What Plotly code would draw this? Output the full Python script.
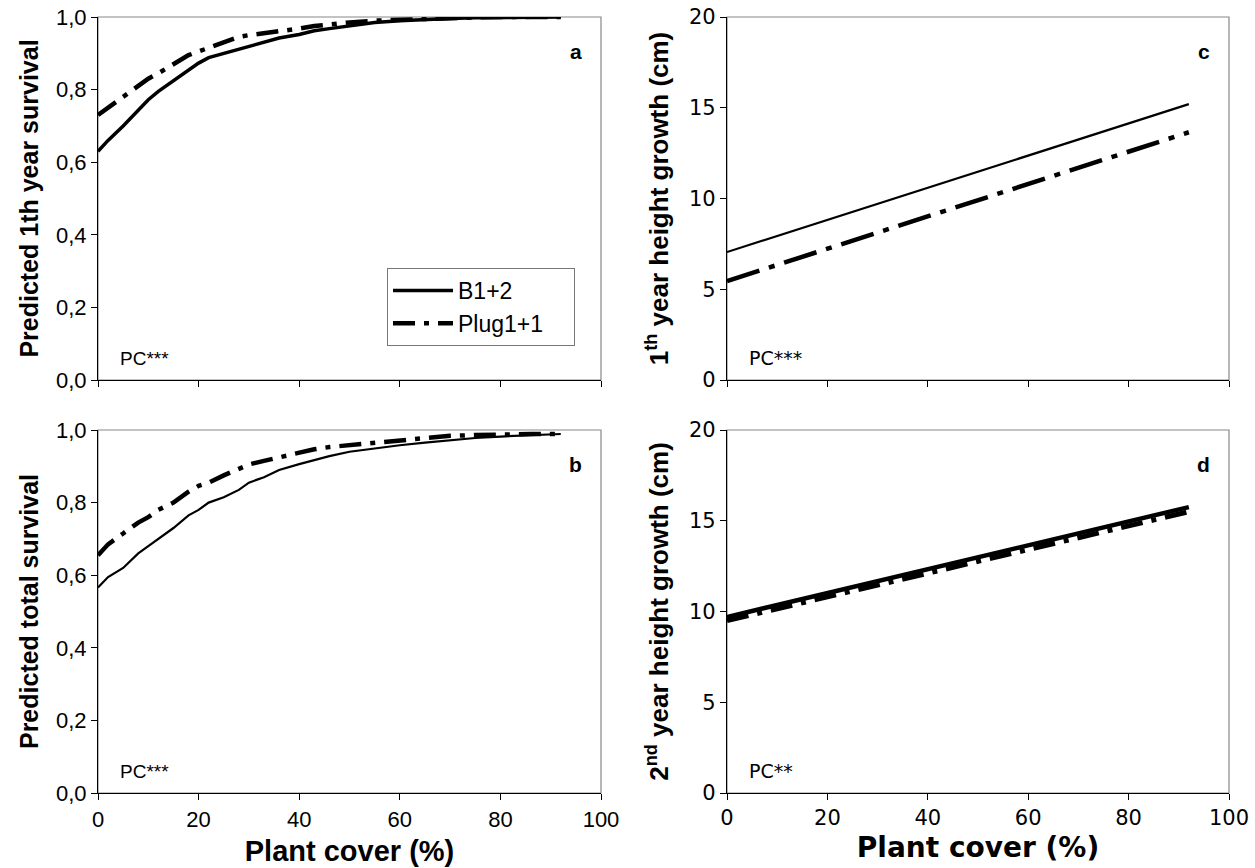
import plotly.graph_objects as go

# Plant cover (%) sample points for the fitted survival curves
cover = [0, 2, 5, 8, 10, 12, 15, 18, 20, 22, 25, 28, 30, 33, 36, 40, 43, 46,
         50, 55, 60, 65, 70, 75, 80, 86, 92]

# Predicted 1th year survival
surv1_b12 = [0.63, 0.66, 0.70, 0.745, 0.772, 0.795, 0.825, 0.853, 0.873, 0.888,
             0.900, 0.912, 0.920, 0.932, 0.942, 0.952, 0.962, 0.968, 0.976,
             0.985, 0.990, 0.994, 0.996, 0.998, 0.999, 1.0, 1.0]
surv1_plug = [0.73, 0.75, 0.78, 0.81, 0.83, 0.845, 0.87, 0.895, 0.905, 0.915,
              0.93, 0.945, 0.95, 0.955, 0.96, 0.968, 0.975, 0.98, 0.985, 0.99,
              0.993, 0.996, 0.998, 0.999, 1.0, 1.0, 1.0]

# Predicted total survival
survt_b12 = [0.566, 0.595, 0.62, 0.66, 0.68, 0.70, 0.73, 0.765, 0.78, 0.80,
             0.815, 0.835, 0.855, 0.87, 0.89, 0.906, 0.918, 0.928, 0.94, 0.95,
             0.958, 0.965, 0.972, 0.978, 0.982, 0.986, 0.989]
survt_plug = [0.655, 0.685, 0.715, 0.745, 0.76, 0.78, 0.80, 0.83, 0.846, 0.855,
              0.875, 0.893, 0.905, 0.915, 0.925, 0.94, 0.947, 0.953, 0.958,
              0.965, 0.972, 0.978, 0.984, 0.986, 0.988, 0.989, 0.989]

# Linear height growth models (cm), end points over the observed cover range
cover_lin = [0, 92]
h1_b12 = [7.05, 15.2]
h1_plug = [5.45, 13.65]
h2_b12 = [9.7, 15.75]
h2_plug = [9.5, 15.5]

x_ticks = [0, 20, 40, 60, 80, 100]
surv_ticks = [0, 0.2, 0.4, 0.6, 0.8, 1.0]
height_ticks = [0, 5, 10, 15, 20]

DASHDOT = "22px,9px,5px,9px"
DASHDOT_C = "34px,10px,6px,10px"

ARIAL = "Liberation Sans, Arial, sans-serif"
WIDE = "DejaVu Sans, Verdana, sans-serif"

W, H = 1255, 868
xl = [98 / W, 601 / W]
xr = [727 / W, 1229 / W]
yt = [1 - 380 / H, 1 - 17 / H]
yb = [1 - 793 / H, 1 - 430 / H]

fig = go.Figure()

def line(x, y, xa, ya, width, dash="solid", name=None, legend=False):
    fig.add_trace(go.Scatter(
        x=x, y=y, xaxis=xa, yaxis=ya, mode="lines", name=name,
        showlegend=legend,
        line=dict(color="black", width=width, dash=dash, shape="linear"),
    ))

# a
line(cover, surv1_b12, "x", "y", 3.5, name="B1+2\u00a0\u00a0\u00a0\u00a0", legend=True)
line(cover, surv1_plug, "x", "y", 4.5, DASHDOT, name="Plug1+1\u00a0\u00a0\u00a0\u00a0", legend=True)
# b
line(cover, survt_b12, "x3", "y3", 2.2)
line(cover, survt_plug, "x3", "y3", 4.5, DASHDOT)
# c
line(cover_lin, h1_b12, "x2", "y2", 2.2)
line(cover_lin, h1_plug, "x2", "y2", 4.5, DASHDOT_C)
# d
line(cover_lin, h2_b12, "x4", "y4", 4.5)
line(cover_lin, h2_plug, "x4", "y4", 5, DASHDOT)

def xaxis(domain, anchor, show_labels, font, size):
    return dict(domain=domain, anchor=anchor, range=[0, 100], tickvals=x_ticks,
                showticklabels=show_labels, ticks="outside", ticklen=6,
                tickcolor="black", tickwidth=1.2, showgrid=False, zeroline=False,
                showline=True, linecolor="black", linewidth=1.2, automargin=False,
                tickfont=dict(family=font, size=size, color="black"))

def yaxis(domain, anchor, rng, ticks, font, size, fmt, title, tfont, tsize, standoff):
    return dict(domain=domain, anchor=anchor, range=rng, tickvals=ticks,
                tickformat=fmt, ticks="outside", ticklen=6, tickcolor="black",
                tickwidth=1.2, showgrid=False, zeroline=False, showline=True,
                linecolor="black", linewidth=1.2, automargin=False,
                tickfont=dict(family=font, size=size, color="black"),
                title=dict(text=title, standoff=standoff,
                           font=dict(family=tfont, size=tsize, color="black")))

fig.update_layout(
    width=W, height=H, margin=dict(l=0, r=0, t=0, b=0, autoexpand=False),
    paper_bgcolor="white", plot_bgcolor="white", separators=",.",
    xaxis=xaxis(xl, "y", False, ARIAL, 22),
    yaxis=yaxis(yt, "x", [0, 1], surv_ticks, ARIAL, 22, ".1f",
                "<b>Predicted 1th year survival</b>", ARIAL, 25, 10),
    xaxis3=dict(xaxis(xl, "y3", True, ARIAL, 22),
                title=dict(text="<b>Plant cover (%)</b>", standoff=10,
                           font=dict(family=ARIAL, size=29, color="black"))),
    yaxis3=yaxis(yb, "x3", [0, 1], surv_ticks, ARIAL, 22, ".1f",
                 "<b>Predicted total survival</b>", ARIAL, 25, 10),
    xaxis2=xaxis(xr, "y2", False, WIDE, 21),
    yaxis2=yaxis(yt, "x2", [0, 20], height_ticks, WIDE, 21, "d",
                 "<b>1<sup>th</sup> year height growth (cm)</b>", ARIAL, 26, 12),
    xaxis4=dict(xaxis(xr, "y4", True, WIDE, 21),
                title=dict(text="<b>Plant cover (%)</b>", standoff=8,
                           font=dict(family=WIDE, size=28, color="black"))),
    yaxis4=yaxis(yb, "x4", [0, 20], height_ticks, WIDE, 21, "d",
                 "<b>2<sup>nd</sup> year height growth (cm)</b>", ARIAL, 26, 12),
    legend=dict(x=387 / W, y=1 - 268 / H, xanchor="left", yanchor="top",
                bgcolor="white", bordercolor="#777", borderwidth=1,
                font=dict(family=ARIAL, size=23, color="black"),
                itemwidth=60, tracegroupgap=4),
)

# light frame on the top and right of each panel
for xa, ya in [("x", "y"), ("x2", "y2"), ("x3", "y3"), ("x4", "y4")]:
    fig.add_shape(type="rect", xref=f"{xa} domain", yref=f"{ya} domain",
                  x0=0, x1=1, y0=0, y1=1, layer="below",
                  line=dict(color="#888", width=1.2))

# panel letters and significance notes
letters = [("a", "x", "y"), ("c", "x2", "y2"), ("b", "x3", "y3"), ("d", "x4", "y4")]
for txt, xa, ya in letters:
    fig.add_annotation(text=f"<b>{txt}</b>", xref=f"{xa} domain", yref=f"{ya} domain",
                       x=0.95, y=0.905, showarrow=False, xanchor="center",
                       yanchor="middle",
                       font=dict(family=ARIAL, size=21, color="black"))

notes = [("PC***", "x", "y", ARIAL), ("PC***", "x3", "y3", ARIAL),
         ("PC***", "x2", "y2", WIDE), ("PC**", "x4", "y4", WIDE)]
for txt, xa, ya, fnt in notes:
    fig.add_annotation(text=txt, xref=f"{xa} domain", yref=f"{ya} domain",
                       x=0.04, y=0.06, showarrow=False, xanchor="left",
                       yanchor="middle",
                       font=dict(family=fnt, size=19, color="black"))

fig.write_html("out.html")
